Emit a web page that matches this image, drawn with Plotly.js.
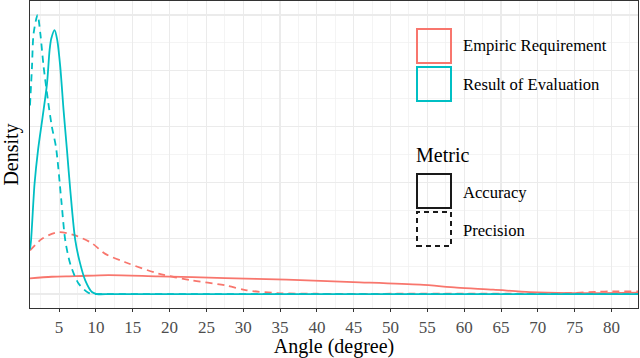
<!DOCTYPE html>
<html>
<head>
<meta charset="utf-8">
<script src="https://cdn.plot.ly/plotly-3.0.1.min.js"></script>
<style>html,body{margin:0;padding:0;background:#fff;}#chart{width:640px;height:358px;}</style>
</head>
<body>
<div id="chart"></div>
<script>
// ---- Data ----
const empiricAccX = [1.05, 4.0, 7.2, 11.7, 18.5, 27.55, 35.9, 44.95, 54.0, 59.0, 63.95, 68.9, 74.35, 78.8, 83.6];
const empiricAccY = [0.028, 0.031, 0.032, 0.034, 0.0317, 0.0287, 0.0258, 0.0215, 0.0168, 0.0115, 0.0079, 0.0036, 0.0018, 0.0018, 0.0025];

const empiricPrecX = [1.05, 2.68, 4.93, 7.2, 9.46, 11.27, 13.98, 18.5, 23.03, 27.55, 30.49, 34.56, 40, 50, 60, 70, 75, 78, 80, 83.6];
const empiricPrecY = [0.078, 0.099, 0.111, 0.105, 0.091, 0.072, 0.057, 0.0366, 0.0246, 0.0156, 0.0066, 0.0018, 0.0005, 0.0005, 0.0006, 0.001, 0.002, 0.004, 0.0048, 0.0048];

const resultAccX = [1.05, 1.19, 1.67, 2.14, 2.76, 3.36, 3.71, 3.94, 4.39, 4.75, 5.16, 5.61, 6.07, 6.52, 7.2, 7.87, 8.55, 9.46, 10.14, 12, 20, 40, 60, 83.6];
const resultAccY = [0.08, 0.096, 0.198, 0.258, 0.317, 0.377, 0.437, 0.458, 0.473, 0.455, 0.407, 0.329, 0.258, 0.186, 0.096, 0.054, 0.0246, 0.0036, 0, 0, 0, 0, 0, 0];

const resultPrecX = [1.05, 1.32, 1.54, 2.08, 2.45, 2.9, 3.49, 4.03, 4.58, 5.3, 5.84, 6.52, 7.64, 9.0, 10.0, 12, 20, 40, 60, 83.6];
const resultPrecY = [0.338, 0.407, 0.467, 0.5, 0.467, 0.407, 0.347, 0.299, 0.263, 0.168, 0.096, 0.054, 0.019, 0.002, 0, 0, 0, 0, 0, 0];

const xTickVals = [5, 10, 15, 20, 25, 30, 35, 40, 45, 50, 55, 60, 65, 70, 75, 80];
const groupNames = ['Empiric Requirement', 'Result of Evaluation'];
const metricNames = ['Accuracy', 'Precision'];
const xTitle = 'Angle (degree)';
const yTitle = 'Density';
const legendTitle = 'Metric';

// ---- Styles ----
const RED = '#F8766D', TEAL = '#00BFC4';
const FONT = '"Liberation Serif", "Times New Roman", serif';
const W = 640, H = 358;
const M = {l: 30, r: 2, t: 1, b: 50};
const pw = W - M.l - M.r, ph = H - M.t - M.b;
const px = x => (x - M.l) / pw;
const py = y => (H - M.b - y) / ph;

function line(x, y, color, dash, name) {
  return {x: x, y: y, type: 'scatter', mode: 'lines', name: name, showlegend: false,
    line: {color: color, width: 1.8, dash: dash, shape: 'spline', smoothing: 0.8},
    hoverinfo: 'skip'};
}
const DASH = '7px,5px';
const data = [
  line(empiricAccX, empiricAccY, RED, 'solid', groupNames[0] + ' ' + metricNames[0]),
  line(empiricPrecX, empiricPrecY, RED, DASH, groupNames[0] + ' ' + metricNames[1]),
  line(resultAccX, resultAccY, TEAL, 'solid', groupNames[1] + ' ' + metricNames[0]),
  line(resultPrecX, resultPrecY, TEAL, DASH, groupNames[1] + ' ' + metricNames[1])
];

// legend keys drawn as shapes
function box(x0, x1, y0, y1, color, dash) {
  return {type: 'rect', xref: 'paper', yref: 'paper', x0: px(x0), x1: px(x1), y0: py(y1), y1: py(y0),
    line: {color: color, width: 2, dash: dash || 'solid'}, fillcolor: 'rgba(0,0,0,0)', layer: 'above'};
}
const shapes = [
  box(417, 451, 29, 63, RED),
  box(417, 451, 67, 101, TEAL),
  box(417, 451, 174, 208, '#1a1a1a'),
  box(417, 451, 212, 246, '#1a1a1a', '5px,4px')
];
function txt(x, y, t, size) {
  return {xref: 'paper', yref: 'paper', x: px(x), y: py(y), text: t, showarrow: false,
    xanchor: 'left', yanchor: 'middle', font: {family: FONT, size: size, color: '#000'}};
}
const annotations = [
  txt(461, 46, groupNames[0], 16.6),
  txt(461, 84, groupNames[1], 16.6),
  txt(414, 155, legendTitle, 20),
  txt(461, 192, metricNames[0], 16.6),
  txt(461, 230, metricNames[1], 16.6)
];

const layout = {
  width: W, height: H,
  margin: M,
  paper_bgcolor: '#fff', plot_bgcolor: '#fff',
  showlegend: false,
  font: {family: FONT},
  xaxis: {
    range: [1.05, 83.6], tickvals: xTickVals, ticks: 'outside', ticklen: 3, tickcolor: '#333', tickwidth: 1,
    tickfont: {family: FONT, size: 17, color: '#4D4D4D'},
    showgrid: true, gridcolor: '#EBEBEB', gridwidth: 1.1,
    minor: {tick0: 0, dtick: 2.5, showgrid: true, gridcolor: '#F0F0F0', gridwidth: 0.7, ticks: ''},
    showline: true, mirror: true, linecolor: '#333', linewidth: 1.2, zeroline: false,
    title: {text: xTitle, font: {family: FONT, size: 20, color: '#000'}, standoff: 5}
  },
  yaxis: {
    range: [-0.025, 0.525], tick0: 0, dtick: 0.1, showticklabels: false, ticks: '',
    showgrid: true, gridcolor: '#EBEBEB', gridwidth: 1.1,
    minor: {tick0: 0, dtick: 0.05, showgrid: true, gridcolor: '#F0F0F0', gridwidth: 0.7, ticks: ''},
    showline: true, mirror: true, linecolor: '#333', linewidth: 1.2, zeroline: false,
    title: {text: yTitle, font: {family: FONT, size: 20, color: '#000'}, standoff: 4}
  },
  shapes: shapes,
  annotations: annotations
};

Plotly.newPlot('chart', data, layout, {staticPlot: true, displayModeBar: false});
</script>
</body>
</html>
